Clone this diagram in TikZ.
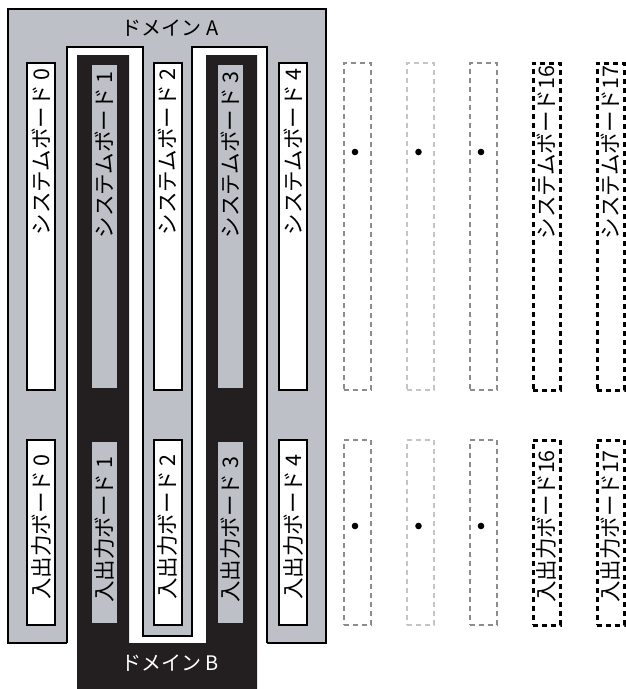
\documentclass[tikz,border=0pt]{standalone}
\usepackage{fontspec}
\setmainfont{Noto Sans CJK JP}
\usepackage{tikz}
\usetikzlibrary{positioning,calc}
\definecolor{domgray}{HTML}{BDC1C7}
\definecolor{domblack}{HTML}{231F20}
\definecolor{dashgray}{HTML}{8A8C8F}
\definecolor{dashlight}{HTML}{C2C4C7}

\begin{document}
\begin{tikzpicture}[
        x=1pt, y=-1pt,
        whiteboard/.style={rectangle, draw=black, line width=2pt, fill=white, minimum width=28pt, inner sep=0pt},
        grayboard/.style={rectangle, fill=domgray, minimum width=25pt, inner sep=0pt},
        emptyboard/.style={rectangle, line width=2pt, dash pattern=on 5pt off 4pt, minimum width=27pt, inner sep=0pt},
        sysh/.style={minimum height=327pt},
        ioh/.style={minimum height=185pt},
        boardtext/.style={rotate=90, font=\fontsize{21.5}{21.5}\selectfont, inner sep=0pt},
        domtext/.style={font=\fontsize{20}{20}\selectfont, inner sep=0pt}
    ]
        \useasboundingbox (0,0) rectangle (625,689);

        % Domain A
        \draw[fill=domgray, line width=1.5pt] (8,9) rectangle (326,643);
        \fill[white] (67,47) -- (143,47) -- (143,636) -- (192,636) -- (192,47)
            -- (267,47) -- (267,689) -- (67,689) -- cycle;
        \draw[line width=1.5pt] (67,643) -- (67,47) -- (143,47) -- (143,636)
            -- (192,636) -- (192,47) -- (267,47) -- (267,643);

        % Domain B
        \fill[domblack] (77,55) -- (129,55) -- (129,643) -- (206,643) -- (206,55)
            -- (257,55) -- (257,689) -- (77,689) -- cycle;

        \node[domtext] (domA) at (170,28) {ドメイン A};
        \node[domtext, text=white] (domB) at (170,663) {ドメイン B};

        % Boards in domain A
        \foreach \i/\x in {0/41, 2/167.5, 4/293} {
            \node[whiteboard, sysh] (sys\i) at (\x,226.5) {};
            \node[whiteboard, ioh] (io\i) at (\x,532.5) {};
        }
        % Boards in domain B
        \foreach \i/\x in {1/104.5, 3/230.5} {
            \node[grayboard, minimum height=323pt] (sys\i) at (\x,226.5) {};
            \node[grayboard, minimum height=181pt] (io\i) at (\x,532.5) {};
        }
        \foreach \i in {0,...,4} {
            \node[boardtext] (syslabel\i) at ($(sys\i.north)+(0,90)$) {システムボード \i};
            \node[boardtext] (iolabel\i) at ($(io\i.north)+(0,88)$) {入出力ボード \i};
        }

        % Unused slots
        \foreach \n/\x/\c in {a/357/dashgray, b/420.5/dashlight, c/483/dashgray} {
            \node[emptyboard, draw=\c, sysh] (sys\n) at (\x,226.5) {};
            \node[emptyboard, draw=\c, ioh] (io\n) at (\x,532.5) {};
            \fill ($(sys\n.north)+(-2,90)$) circle (3.3);
            \fill ($(io\n.north)+(-2,87)$) circle (3.3);
        }
        \foreach \i/\x in {16/546.5, 17/610.5} {
            \node[emptyboard, draw=black, line width=3pt, sysh] (sys\i) at (\x,226.5) {};
            \node[emptyboard, draw=black, line width=3pt, ioh] (io\i) at (\x,532.5) {};
            \node[boardtext] (syslabel\i) at ($(sys\i.north)+(0,91)$) {システムボード\i};
            \node[boardtext] (iolabel\i) at ($(io\i.north)+(0,88)$) {入出力ボード\i};
        }

    \end{tikzpicture}
\end{document}
